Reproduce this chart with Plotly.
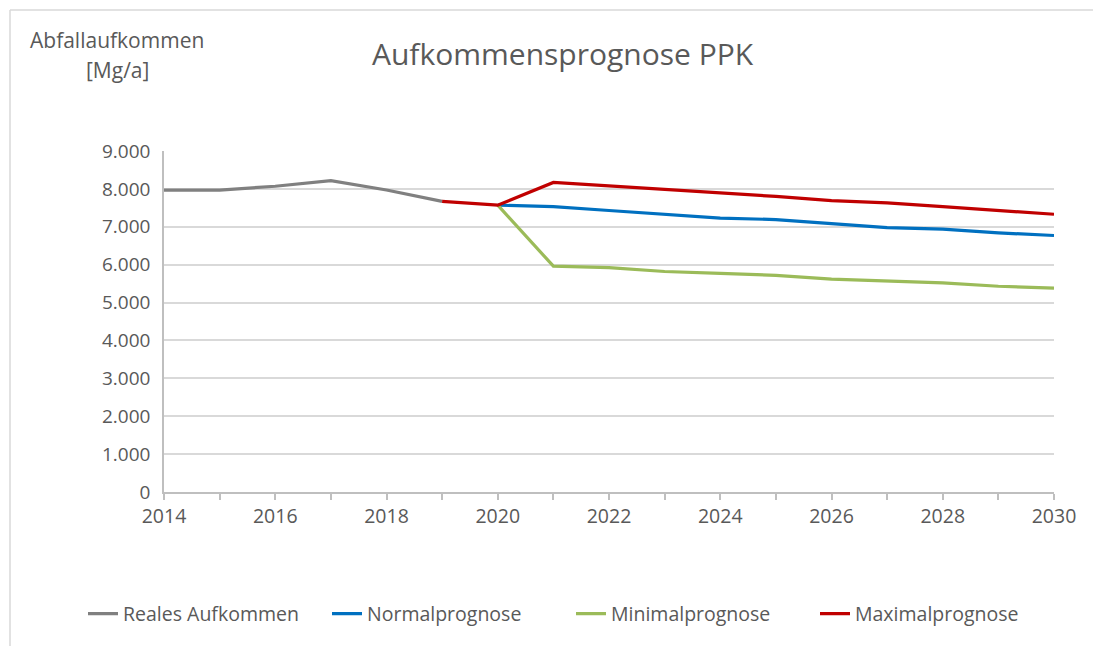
import plotly.graph_objects as go

years_real = [2014, 2015, 2016, 2017, 2018, 2019]
real = [7970, 7970, 8070, 8220, 7970, 7670]

years_max = [2019, 2020, 2021, 2022, 2023, 2024, 2025, 2026, 2027, 2028, 2029, 2030]
maximal = [7670, 7570, 8170, 8080, 7990, 7890, 7800, 7690, 7630, 7530, 7430, 7330]

years_fc = [2020, 2021, 2022, 2023, 2024, 2025, 2026, 2027, 2028, 2029, 2030]
normal = [7570, 7530, 7430, 7340, 7230, 7190, 7090, 6980, 6940, 6840, 6770]
minimal = [7570, 5960, 5920, 5820, 5770, 5720, 5620, 5570, 5520, 5430, 5380]

x_ticks = list(range(2014, 2031))
x_labels = [str(y) if y % 2 == 0 else "" for y in x_ticks]
y_ticks = [0, 1000, 2000, 3000, 4000, 5000, 6000, 7000, 8000, 9000]

FONT = "Open Sans"
TXT = "#595959"

# page offset (body margin) compensation
OFF = 8
W, H = 1101 - OFF, 646 - OFF
PL, PR, PT, PB = 164, 1054, 151, 492  # plot area in page pixels
PW, PH = PR - PL, PB - PT


def px(xp):
    return (xp - PL) / PW


def py(yp):
    return (PB - yp) / PH


fig = go.Figure()
fig.add_trace(go.Scatter(x=years_real, y=real, mode="lines", name="Reales Aufkommen",
                         line=dict(color="#808080", width=3.2)))
fig.add_trace(go.Scatter(x=years_fc, y=normal, mode="lines", name="Normalprognose",
                         line=dict(color="#0070C0", width=3.2)))
fig.add_trace(go.Scatter(x=years_fc, y=minimal, mode="lines", name="Minimalprognose",
                         line=dict(color="#9BBB59", width=3.2)))
fig.add_trace(go.Scatter(x=years_max, y=maximal, mode="lines", name="Maximalprognose",
                         line=dict(color="#C00000", width=3.2)))

fig.update_layout(
    width=W, height=H,
    margin=dict(l=PL - OFF, r=W - (PR - OFF), t=PT - OFF, b=H - (PB - OFF)),
    paper_bgcolor="white", plot_bgcolor="white",
    separators=",.",
    font=dict(family=FONT, color=TXT, size=18),
    showlegend=True,
    legend=dict(orientation="h", x=px(83), xref="paper", xanchor="left",
                y=py(614), yref="paper", yanchor="middle",
                entrywidth=199, entrywidthmode="pixels",
                font=dict(size=19.5, color=TXT), tracegroupgap=0),
    xaxis=dict(range=[2014, 2030], tickmode="array", tickvals=x_ticks, ticktext=x_labels,
               showgrid=False, showline=True, linecolor="#BFBFBF", linewidth=1.5,
               ticks="outside", ticklen=6, tickcolor="#BFBFBF", tickwidth=1.5,
               tickfont=dict(size=19.5, color=TXT), zeroline=False, fixedrange=True),
    yaxis=dict(range=[0, 9000], tickmode="array", tickvals=y_ticks, tickformat=",d",
               showgrid=True, gridcolor="#D9D9D9", gridwidth=1.5,
               showline=True, linecolor="#BFBFBF", linewidth=1.5, zeroline=False,
               ticks="", ticklabelstandoff=8,
               tickfont=dict(size=19, color=TXT)),
    annotations=[
        dict(text="Aufkommensprognose PPK", xref="paper", yref="paper",
             x=px(563), y=py(53), xanchor="center", yanchor="middle",
             showarrow=False, font=dict(size=30, color=TXT)),
        dict(text="Abfallaufkommen", xref="paper", yref="paper",
             x=px(117), y=py(40), xanchor="center", yanchor="middle",
             showarrow=False, font=dict(size=21, color=TXT)),
        dict(text="[Mg/a]", xref="paper", yref="paper",
             x=px(117), y=py(70), xanchor="center", yanchor="middle",
             showarrow=False, font=dict(size=21, color=TXT)),
    ],
)
# Outer chart border (top-left visible)
fig.add_shape(type="line", xref="paper", yref="paper",
              x0=px(10), x1=px(1101), y0=py(10), y1=py(10),
              line=dict(color="#D9D9D9", width=1.5))
fig.add_shape(type="line", xref="paper", yref="paper",
              x0=px(10), x1=px(10), y0=py(10), y1=py(646),
              line=dict(color="#D9D9D9", width=1.5))

fig.write_html("out.html")
